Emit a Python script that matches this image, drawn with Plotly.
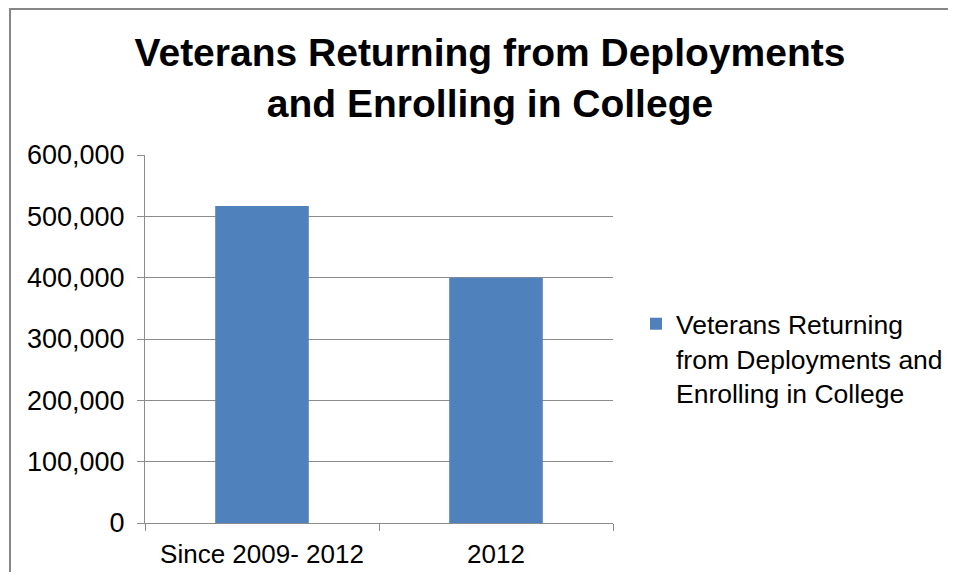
import plotly.graph_objects as go

categories = ["Since 2009- 2012", "2012"]
values = [517000, 400000]
series_name = "Veterans Returning<br>from Deployments and<br>Enrolling in College"
title_text = "Veterans Returning from Deployments<br>and Enrolling in College"
y_tickvals = [0, 100000, 200000, 300000, 400000, 500000, 600000]
y_ticktext = ["0", "100,000", "200,000", "300,000", "400,000", "500,000", "600,000"]

# page body has an 8px margin; figure sized to fit the viewport
W, H = 940, 564
L, R, T, B = 137, 335, 147, 49
pw, ph = W - L - R, H - T - B

def px_x(p):
    return (p - L) / pw

def px_y(p):
    return (H - B - p) / ph

fig = go.Figure()
fig.add_trace(go.Bar(
    x=categories, y=values, name=series_name,
    marker=dict(color="#4F81BD", line=dict(width=0)),
    width=0.4, showlegend=True,
))

font_family = "Liberation Sans, Arial, sans-serif"
grid_col = "#8C8C8C"

fig.update_layout(
    width=W, height=H,
    margin=dict(l=L, r=R, t=T, b=B, autoexpand=False),
    paper_bgcolor="white", plot_bgcolor="white",
    font=dict(family=font_family, color="#000000", size=26),
    title=dict(text="<b>" + title_text + "</b>", xref="container", yref="container",
               x=482 / W, xanchor="center", y=1 - 58 / H, yanchor="top",
               font=dict(size=39, family=font_family, color="#000000")),
    showlegend=True,
    legend=dict(x=px_x(628), xanchor="left", y=px_y(292), yanchor="top",
                valign="top", font=dict(size=26.5, family=font_family),
                bgcolor="rgba(0,0,0,0)", borderwidth=0,
                itemclick=False),
)
fig.update_xaxes(
    type="category", showline=True, linecolor=grid_col, linewidth=1,
    ticks="outside", ticklen=7, tickcolor=grid_col, tickson="boundaries",
    showgrid=False, tickfont=dict(size=26), ticklabelstandoff=8,
    automargin=False,
)
fig.update_yaxes(
    range=[0, 600000], tickvals=y_tickvals, ticktext=y_ticktext,
    showline=True, linecolor=grid_col, linewidth=1,
    ticks="outside", ticklen=7, tickcolor=grid_col,
    showgrid=True, gridcolor=grid_col, gridwidth=1, zeroline=False,
    tickfont=dict(size=27), ticklabelstandoff=7, automargin=False,
)
# outer chart border (left and top edges; the rest lies outside the picture)
bx0, bx1 = px_x(2), px_x(1000)
by0, by1 = px_y(620), px_y(1)
fig.add_shape(type="path", xref="paper", yref="paper",
              path=f"M {bx0},{by0} L {bx0},{by1} L {bx1},{by1}",
              line=dict(color="#878787", width=2), layer="below")

fig.write_html("out.html")
